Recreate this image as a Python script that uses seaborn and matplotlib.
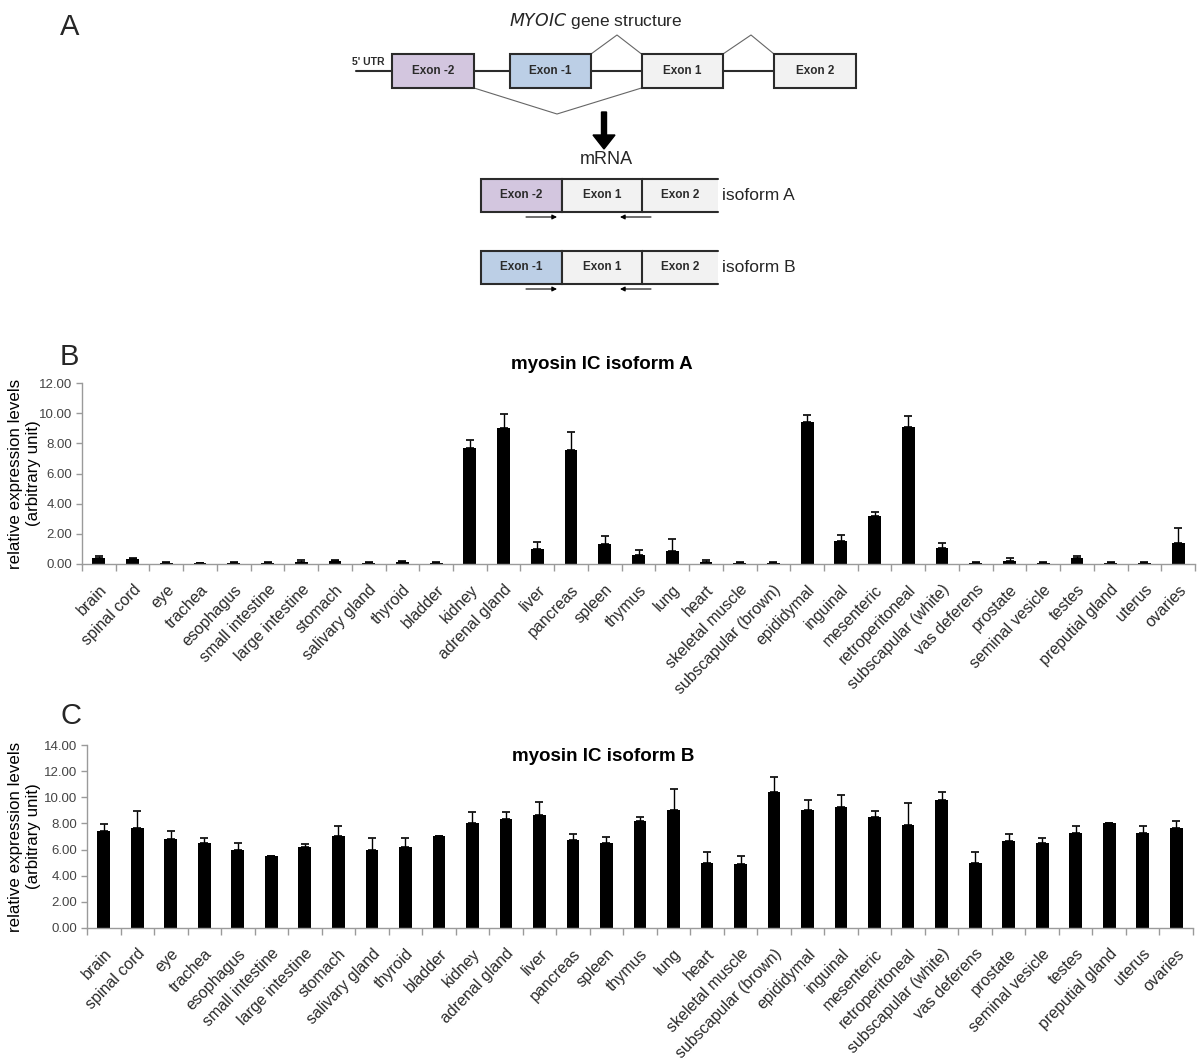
import numpy as np
import pandas as pd
import matplotlib
matplotlib.use('Agg')
import matplotlib.pyplot as plt
import seaborn as sns
from matplotlib.patches import Rectangle
from matplotlib.ticker import FormatStrFormatter, FixedLocator, MultipleLocator

# ---------------- data ----------------
tissues = ["brain", "spinal cord", "eye", "trachea", "esophagus", "small intestine",
           "large intestine", "stomach", "salivary gland", "thyroid", "bladder", "kidney",
           "adrenal gland", "liver", "pancreas", "spleen", "thymus", "lung", "heart",
           "skeletal muscle", "subscapular (brown)", "epididymal", "inguinal", "mesenteric",
           "retroperitoneal", "subscapular (white)", "vas deferens", "prostate",
           "seminal vesicle", "testes", "preputial gland", "uterus", "ovaries"]

iso_a_mean = [0.38, 0.30, 0.07, 0.06, 0.07, 0.07, 0.15, 0.22, 0.07, 0.13, 0.07, 7.70,
              9.00, 1.00, 7.55, 1.30, 0.60, 0.85, 0.15, 0.07, 0.07, 9.40, 1.55, 3.18,
              9.08, 1.08, 0.07, 0.22, 0.07, 0.38, 0.07, 0.07, 1.40]
iso_a_err = [0.12, 0.12, 0.03, 0.03, 0.03, 0.03, 0.12, 0.06, 0.03, 0.05, 0.03, 0.52,
             0.92, 0.45, 1.20, 0.55, 0.30, 0.83, 0.13, 0.03, 0.03, 0.48, 0.37, 0.30,
             0.70, 0.30, 0.03, 0.20, 0.03, 0.14, 0.03, 0.03, 0.98]

iso_b_mean = [7.45, 7.67, 6.78, 6.53, 5.99, 5.53, 6.17, 7.06, 5.99, 6.17, 7.06, 8.03,
              8.31, 8.67, 6.71, 6.53, 8.21, 9.03, 5.00, 4.90, 10.43, 9.03, 9.28, 8.47,
              7.86, 9.82, 5.00, 6.68, 6.50, 7.29, 8.01, 7.29, 7.67]
iso_b_err = [0.48, 1.26, 0.61, 0.33, 0.51, 0.00, 0.23, 0.77, 0.87, 0.69, 0.00, 0.82,
             0.54, 0.99, 0.51, 0.41, 0.26, 1.58, 0.84, 0.61, 1.15, 0.76, 0.87, 0.46,
             1.68, 0.61, 0.84, 0.51, 0.41, 0.51, 0.00, 0.51, 0.54]

ylabel_text = "relative expression levels\n(arbitrary unit)"

# ---------------- style ----------------
sns.set_theme(style='white')
plt.rcParams['font.family'] = ['Liberation Sans', 'DejaVu Sans']

W, H = 1200, 1061
fig = plt.figure(figsize=(12, 10.61), dpi=100)

def px_axes(left, top, right, bottom):
    return fig.add_axes([left / W, 1 - bottom / H, (right - left) / W, (bottom - top) / H])

AXIS_GRAY = '#9a9a9a'
TEXT_GRAY = '#2a2a2a'

def bar_panel(ax, means, errs, ymax, title, title_y, label_x):
    df = pd.DataFrame({'tissue': tissues, 'value': means})
    sns.barplot(data=df, x='tissue', y='value', color='black', width=0.38,
                errorbar=None, saturation=1, linewidth=0, ax=ax)
    x = np.arange(len(tissues))
    ax.errorbar(x, means, yerr=[np.zeros(len(x)), errs], fmt='none',
                ecolor='black', elinewidth=1.0, capsize=3, capthick=1.2)
    n = len(tissues)
    ax.set_xlim(-0.5, n - 0.5)
    ax.set_ylim(0, ymax)
    ax.yaxis.set_major_locator(MultipleLocator(2))
    ax.yaxis.set_major_formatter(FormatStrFormatter('%.2f'))
    ax.xaxis.set_minor_locator(FixedLocator(np.arange(-0.5, n, 1.0)))
    ax.tick_params(axis='x', which='major', length=0, pad=13, labelsize=11.5,
                   labelcolor=TEXT_GRAY)
    ax.tick_params(axis='x', which='minor', length=5, width=1, color=AXIS_GRAY,
                   direction='out', bottom=True)
    ax.tick_params(axis='y', which='major', length=4, width=1, color=AXIS_GRAY,
                   direction='out', left=True, labelsize=9.5, labelcolor='#444444', pad=3)
    for lbl in ax.get_xticklabels():
        lbl.set_rotation(46)
        lbl.set_ha('right')
        lbl.set_rotation_mode('anchor')
    for s in ['top', 'right']:
        ax.spines[s].set_visible(False)
    for s in ['left', 'bottom']:
        ax.spines[s].set_color(AXIS_GRAY)
        ax.spines[s].set_linewidth(1)
    ax.set_xlabel('')
    ax.set_ylabel(ylabel_text, fontsize=12.2, color='black', linespacing=1.2)
    ax.yaxis.label.set_va('center')
    ax.yaxis.set_label_coords(label_x, 0.5)
    ax.text(0.467, title_y, title, transform=ax.transAxes, ha='center', va='center',
            fontsize=13.5, fontweight='bold', color='black')

# Panel B
ax_b = px_axes(82, 383, 1195, 564)
bar_panel(ax_b, iso_a_mean, iso_a_err, 12, "myosin IC isoform A", 1.10, -0.0515)

# Panel C
ax_c = px_axes(87, 745, 1193, 928)
bar_panel(ax_c, iso_b_mean, iso_b_err, 14, "myosin IC isoform B", 0.935, -0.0565)

# panel letters
fig.text(60 / W, 1 - 27 / H, "A", fontsize=21, va='center', ha='left')
fig.text(60 / W, 1 - 357 / H, "B", fontsize=21, va='center', ha='left')
fig.text(60 / W, 1 - 716 / H, "C", fontsize=21, va='center', ha='left')

# ---------------- Panel A: gene structure diagram ----------------
ax_a = px_axes(0, 0, 1200, 330)
ax_a.set_xlim(0, 1200)
ax_a.set_ylim(330, 0)
ax_a.axis('off')

LAV = '#d3c6df'
BLUE = '#bccfe6'
LIGHT = '#f2f2f2'
EDGE = '#2b2b2b'

ax_a.text(596, 21, r"$\it{MYOIC}$ gene structure", ha='center', va='center', fontsize=12.5)

# gene line
ax_a.plot([356, 392], [71, 71], color=EDGE, lw=1.5)
ax_a.text(352, 62, "5' UTR", ha='left', va='center', fontsize=7.5, fontweight='bold', color=EDGE)
gene_boxes = [(392, 474, LAV, "Exon -2"), (510, 591, BLUE, "Exon -1"),
              (641.5, 723, LIGHT, "Exon 1"), (774, 856, LIGHT, "Exon 2")]
for i in range(len(gene_boxes) - 1):
    ax_a.plot([gene_boxes[i][1], gene_boxes[i + 1][0]], [71, 71], color=EDGE, lw=1.5)
for x0, x1, fc, lab in gene_boxes:
    ax_a.add_patch(Rectangle((x0, 54), x1 - x0, 34, facecolor=fc, edgecolor=EDGE, lw=1.5, zorder=3))
    ax_a.text((x0 + x1) / 2, 71, lab, ha='center', va='center', fontsize=8.5,
              fontweight='bold', color=EDGE, zorder=4)
# splice lines
ax_a.plot([591, 617, 641.5], [54, 35, 54], color='#666666', lw=0.8)
ax_a.plot([723, 751, 774], [54, 35, 54], color='#666666', lw=0.8)
ax_a.plot([474, 557, 641.5], [88, 114, 88], color='#666666', lw=0.8)

# big arrow
ax_a.arrow(604, 112, 0, 37, width=5, head_width=22, head_length=14,
           length_includes_head=True, color='black')
ax_a.text(606, 159, "mRNA", ha='center', va='center', fontsize=13)

def isoform(y0, first_fc, first_lab, name):
    y1 = y0 + 33
    ax_a.add_patch(Rectangle((481, y0), 81, 33, facecolor=first_fc, edgecolor=EDGE, lw=1.5, zorder=3))
    ax_a.add_patch(Rectangle((562, y0), 80, 33, facecolor=LIGHT, edgecolor=EDGE, lw=1.5, zorder=3))
    ax_a.add_patch(Rectangle((642, y0), 76, 33, facecolor=LIGHT, edgecolor='none', zorder=2))
    ax_a.plot([642, 718], [y0, y0], color=EDGE, lw=1.5, zorder=3)
    ax_a.plot([642, 718], [y1, y1], color=EDGE, lw=1.5, zorder=3)
    for xc, lab in [(521.5, first_lab), (602, "Exon 1"), (680, "Exon 2")]:
        ax_a.text(xc, (y0 + y1) / 2, lab, ha='center', va='center', fontsize=8.5,
                  fontweight='bold', color=EDGE, zorder=4)
    ax_a.text(722, (y0 + y1) / 2, name, ha='left', va='center', fontsize=12.5)
    ya = y1 + 5
    ax_a.annotate('', xy=(557, ya), xytext=(526, ya),
                  arrowprops=dict(arrowstyle='-|>', lw=0.8, color='black', mutation_scale=7,
                                  shrinkA=0, shrinkB=0))
    ax_a.annotate('', xy=(620, ya), xytext=(651, ya),
                  arrowprops=dict(arrowstyle='-|>', lw=0.8, color='black', mutation_scale=7,
                                  shrinkA=0, shrinkB=0))

isoform(179, LAV, "Exon -2", "isoform A")
isoform(251, BLUE, "Exon -1", "isoform B")

fig.savefig('out.png', dpi=100, facecolor='white')
